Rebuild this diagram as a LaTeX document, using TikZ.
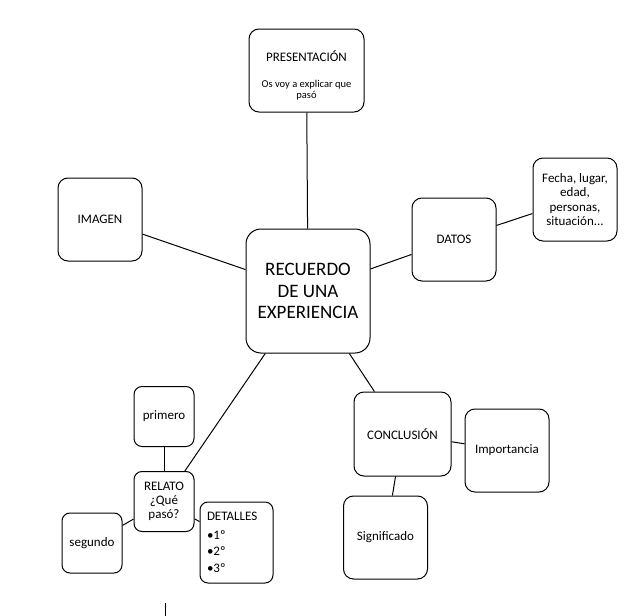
\documentclass[tikz,border=0pt]{standalone}
\usepackage{fontspec}
\setmainfont{Carlito}
\usetikzlibrary{positioning}
\tikzset{
    box/.style={draw, rounded corners=10pt, line width=1pt, inner sep=0pt,
        align=center, minimum width=84pt, minimum height=83pt,
        font=\fontsize{13}{14.5}\selectfont}, % the usual boxes
    smallbox/.style={box, rounded corners=8pt, minimum width=60pt, minimum height=60pt},
    every edge/.style={draw, line width=1pt}, % connectors between boxes
}
\newcommand{\smalltext}{\fontsize{10.5}{11}\selectfont}
\begin{document}
\begin{tikzpicture}[x=1pt,y=-1pt]
  \useasboundingbox (0,0) rectangle (625,616);

  % centre of the map
  \node[box, rounded corners=15pt, minimum width=124pt, minimum height=124pt,
      font=\fontsize{19}{21.6}\selectfont] (rec) at (308,291)
      {RECUERDO\\DE UNA\\EXPERIENCIA};

  \node[box, minimum width=115pt] (pres) at (306.5,70.5)
      {\rule{0pt}{21pt}PRESENTACIÓN\\[12pt]\smalltext Os voy a explicar que\\[-3.5pt]\smalltext pasó};
  \node[box] (imagen) at (100,219.5) {IMAGEN};
  \node[box] (datos)  at (454,239.5) {DATOS};
  \node[box] (fecha)  at (575,199.5) {Fecha, lugar,\\edad,\\personas,\\situación...};

  \node[box, minimum width=97pt, minimum height=84pt] (concl) at (402.5,434) {CONCLUSIÓN};
  \node[box] (imp) at (507,450.5)   {Importancia};
  \node[box] (sig) at (385.5,537.5) {Significado};

  \node[smallbox, font=\fontsize{13}{14}\selectfont] (relato) at (164,501.5) {RELATO\\¿Qué\\pasó?};
  \node[smallbox] (primero) [above=24pt of relato] {primero};
  \node[smallbox] (segundo) at (92,543) {segundo};
  \node[smallbox, minimum width=73pt, minimum height=81pt, text width=59pt, align=left,
      font=\fontsize{13}{16.5}\selectfont] (detalles) at (236.5,542.5)
      {DETALLES\\[2pt]•1º\\•2º\\•3º};

  \path
    (rec) edge (pres)
          edge (imagen)
          edge (datos)
          edge (concl)
          edge (relato)
    (datos) edge (fecha)
    (concl) edge (imp)
            edge (sig)
    (relato) edge (primero)
             edge (segundo)
             edge (detalles);

  \draw[line width=1pt] (165,603) -- (165,616);
\end{tikzpicture}
\end{document}
